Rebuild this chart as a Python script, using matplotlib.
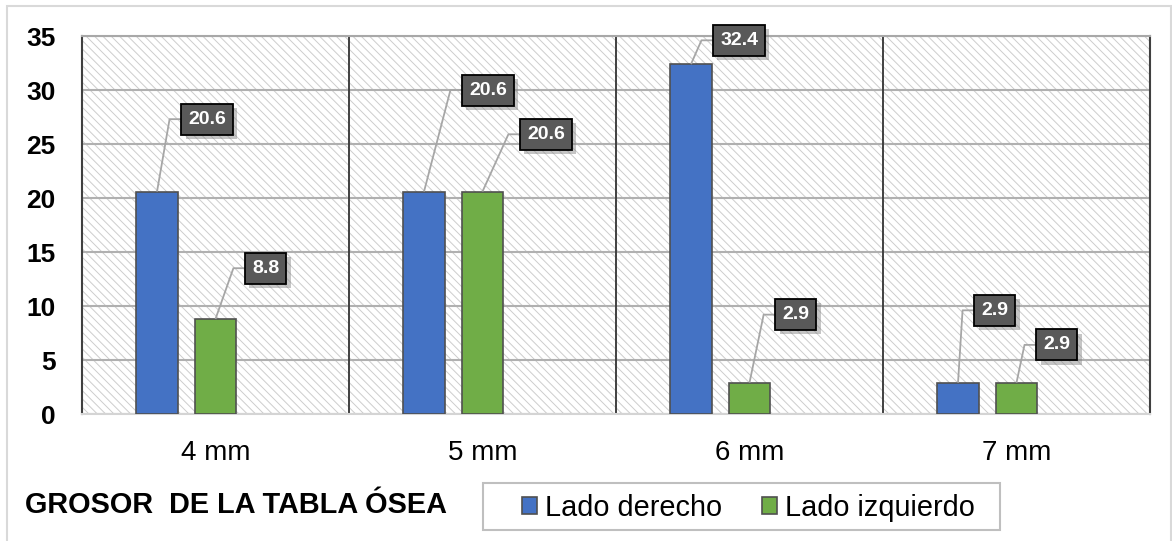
import numpy as np
import matplotlib
matplotlib.use('Agg')
import matplotlib.pyplot as plt
from matplotlib.patches import Rectangle, Patch
import matplotlib.patheffects as pe

plt.rcParams['font.family'] = ['Liberation Sans', 'DejaVu Sans']
plt.rcParams['hatch.linewidth'] = 0.7

categorias = ['4 mm', '5 mm', '6 mm', '7 mm']
derecho = [20.6, 20.6, 32.4, 2.9]
izquierdo = [8.8, 20.6, 2.9, 2.9]
series_names = ['Lado derecho', 'Lado izquierdo']
yticks = [0, 5, 10, 15, 20, 25, 30, 35]

# callout boxes: left edge (category units) and vertical centre (data units)
call_x_der = [-0.129, 0.923, 1.863, 2.841]
call_y_der = [27.3, 30.0, 34.6, 9.6]
call_x_izq = [0.110, 1.140, 2.096, 3.073]
call_y_izq = [13.5, 25.9, 9.2, 6.4]

azul = '#4472C4'
verde = '#70AD47'

fig = plt.figure(figsize=(11.72, 5.41), dpi=100)
ax = fig.add_axes([82 / 1172, 1 - 414 / 541, 1068 / 1172, 378 / 541])

x = np.arange(len(categorias))
w = 0.154
off_der = -0.219
off_izq = 0.0

# hatched plot background
ax.add_patch(Rectangle((0, 0), 1, 1, transform=ax.transAxes, facecolor='white',
                       edgecolor='#cdcdcd', hatch='\\\\\\\\', lw=0, zorder=0.1))

ax.bar(x + off_der, derecho, w, color=azul, edgecolor='#505050', lw=1.2, zorder=3)
ax.bar(x + off_izq, izquierdo, w, color=verde, edgecolor='#505050', lw=1.2, zorder=3)

ax.set_xlim(-0.5, len(categorias) - 0.5)
ax.set_ylim(0, 35)
ax.set_yticks(yticks)
ax.set_yticklabels([str(t) for t in yticks], fontsize=19, fontweight='bold')
ax.set_xticks(x)
ax.set_xticklabels(categorias, fontsize=20)
ax.tick_params(axis='y', length=0, pad=19)
ax.tick_params(axis='x', length=0, pad=19)

ax.yaxis.grid(True, color='#b0b0b0', lw=1.5, zorder=0.5)
ax.set_axisbelow(True)
for xv in x[:-1] + 0.5:
    ax.axvline(xv, color='#404040', lw=1.4, zorder=0.6)

ax.spines['left'].set_color('#404040')
ax.spines['right'].set_color('#404040')
ax.spines['top'].set_color('#a8a8a8')
ax.spines['bottom'].set_color('#d4d4d4')
for s in ax.spines.values():
    s.set_linewidth(1.5)

elbow = 0.043


def callout(bx, val, lx, ly):
    ax.plot([bx, lx - elbow, lx], [val, ly, ly], color='#a6a6a6', lw=1.3,
            zorder=4, solid_capstyle='butt')
    t = ax.annotate(f'{val:.1f}', xy=(lx, ly), xytext=(5.3, 0),
                    textcoords='offset points', ha='left', va='center',
                    fontsize=14, fontweight='bold', color='white', zorder=6,
                    bbox=dict(boxstyle='square,pad=0.36', facecolor='#595959',
                              edgecolor='black', lw=1.3))
    t.get_bbox_patch().set_path_effects([
        pe.SimplePatchShadow(offset=(3, -3), shadow_rgbFace='#808080', alpha=0.45),
        pe.Normal()])


for i in range(len(categorias)):
    callout(x[i] + off_der, derecho[i], call_x_der[i], call_y_der[i])
    callout(x[i] + off_izq, izquierdo[i], call_x_izq[i], call_y_izq[i])

# axis title at bottom left
fig.text(25 / 1172, 1 - 505 / 541, 'GROSOR  DE LA TABLA ÓSEA', fontsize=20.8,
         fontweight='bold', ha='left', va='center')

# legend with its own frame
handles = [Patch(facecolor=azul, edgecolor='#505050', lw=1.2),
           Patch(facecolor=verde, edgecolor='#505050', lw=1.2)]
fig.legend(handles, series_names, loc='center left',
           bbox_to_anchor=(522 / 1172, 1 - 508 / 541), ncol=2, frameon=False,
           fontsize=20.8, handlelength=0.53, handleheight=0.53, handletextpad=0.28,
           columnspacing=1.35, borderpad=0, borderaxespad=0)
fig.add_artist(Rectangle((483 / 1172, 1 - 530 / 541), 517 / 1172, 47 / 541,
                         transform=fig.transFigure, fill=False,
                         edgecolor='#bfbfbf', lw=1.5))

# outer chart frame
fig.add_artist(Rectangle((7 / 1172, -0.05), 1164 / 1172, 1.05 - 6 / 541,
                         transform=fig.transFigure, fill=False,
                         edgecolor='#d9d9d9', lw=1.5))

fig.savefig('out.png', dpi=100)
